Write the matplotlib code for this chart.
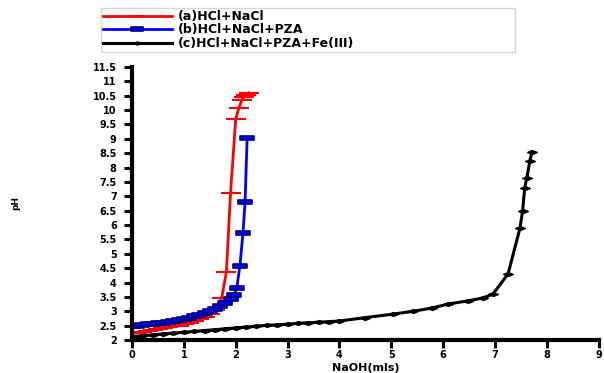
import numpy as np
import matplotlib
matplotlib.use("Agg")
import matplotlib.pyplot as plt
from matplotlib.path import Path

plt.rcParams['font.family'] = ['DejaVu Sans']
plt.rcParams['font.weight'] = 'bold'

# (a) HCl + NaCl
naoh_a = [0, 0.1, 0.2, 0.3, 0.4, 0.5, 0.6, 0.7, 0.8, 0.9, 1.0, 1.1, 1.2, 1.3, 1.4,
          1.5, 1.6, 1.73, 1.82, 1.9, 2.0, 2.06, 2.12, 2.16, 2.2, 2.25]
ph_a = [2.24, 2.26, 2.29, 2.32, 2.34, 2.37, 2.41, 2.44, 2.47, 2.50, 2.54, 2.59, 2.65, 2.72, 2.80,
        2.90, 3.03, 3.46, 4.37, 7.11, 9.69, 10.07, 10.35, 10.45, 10.52, 10.6]

# (b) HCl + NaCl + PZA
naoh_b = [0, 0.1, 0.2, 0.3, 0.4, 0.5, 0.6, 0.7, 0.8, 0.9, 1.0, 1.1, 1.2, 1.3, 1.4, 1.5,
          1.6, 1.7, 1.8, 1.9, 1.97, 2.02, 2.08, 2.14, 2.18, 2.22]
ph_b = [2.48, 2.50, 2.52, 2.54, 2.56, 2.58, 2.60, 2.63, 2.66, 2.69, 2.73, 2.77, 2.82, 2.88, 2.94, 3.01,
        3.09, 3.18, 3.30, 3.44, 3.57, 3.81, 4.57, 5.72, 6.8, 9.03]

# (c) HCl + NaCl + PZA + Fe(III)
naoh_c = [0, 0.2, 0.4, 0.6, 0.8, 1.0, 1.2, 1.4, 1.6, 1.8, 2.0, 2.2, 2.4, 2.6, 2.8, 3.0,
          3.2, 3.4, 3.6, 3.8, 4.0, 4.5, 5.03, 5.42, 5.78, 6.09, 6.47, 6.76, 6.96, 7.25,
          7.48, 7.53, 7.57, 7.61, 7.67, 7.71]
ph_c = [2.12, 2.15, 2.18, 2.21, 2.24, 2.27, 2.30, 2.33, 2.36, 2.39, 2.42, 2.45, 2.48, 2.51, 2.53, 2.55,
        2.58, 2.60, 2.62, 2.64, 2.66, 2.78, 2.90, 3.00, 3.11, 3.25, 3.36, 3.46, 3.60, 4.30,
        5.90, 6.49, 7.29, 7.64, 8.23, 8.54]

labels = ['(a)HCl+NaCl', '(b)HCl+NaCl+PZA', '(c)HCl+NaCl+PZA+Fe(III)']

rect = Path([(-1, -0.33), (1, -0.33), (1, 0.33), (-1, 0.33), (-1, -0.33)],
            [Path.MOVETO, Path.LINETO, Path.LINETO, Path.LINETO, Path.CLOSEPOLY])
diam = Path([(-1, 0), (0, 0.4), (1, 0), (0, -0.4), (-1, 0)],
            [Path.MOVETO, Path.LINETO, Path.LINETO, Path.LINETO, Path.CLOSEPOLY])

fig = plt.figure(figsize=(6.04, 3.73), dpi=100)
ax = fig.add_axes([0.2185, 0.0885, 0.773, 0.732])

ax.plot(naoh_a, ph_a, color='red', lw=2, marker='_', ms=15, mew=1.5, label=labels[0])
ax.plot(naoh_b, ph_b, color='blue', lw=2, marker=rect, ms=10, mfc='blue', mec='#000080',
        mew=1.2, label=labels[1])
ax.plot(naoh_c, ph_c, color='black', lw=2.2, marker=diam, ms=7, mfc='black', mec='black',
        label=labels[2])

ax.set_xlim(0, 9)
ax.set_ylim(2, 11.5)
ax.set_xticks(range(0, 10))
yt = np.arange(2, 11.51, 0.5)
ax.set_yticks(yt)
ax.set_yticklabels(['%g' % v for v in yt])
ax.tick_params(direction='out', length=6, width=2.2, labelsize=7)
ax.tick_params(axis='x', pad=1.5)
ax.tick_params(axis='y', pad=5)

for s in ['top', 'right']:
    ax.spines[s].set_visible(False)
for s in ['left', 'bottom']:
    ax.spines[s].set_linewidth(3)

ax.set_xlabel('NaOH(mls)', fontsize=8, fontweight='bold', labelpad=0)
ax.xaxis.set_label_coords(0.5, -0.085)
ax.set_ylabel('pH', fontsize=6.5, fontweight='bold')
ax.yaxis.set_label_coords(-0.24, 0.5)

leg = fig.legend(loc='lower left', bbox_to_anchor=(101 / 604, 1 - 52 / 373, 414 / 604, 40 / 373),
                 mode='expand', fontsize=9, frameon=True, fancybox=False, borderaxespad=0,
                 handlelength=5.5, labelspacing=0.05, borderpad=0.15, handletextpad=0.5,
                 markerscale=0.8)
leg.get_frame().set_edgecolor('#cccccc')
leg.get_frame().set_linewidth(1)

fig.savefig('out.png', dpi=100)
